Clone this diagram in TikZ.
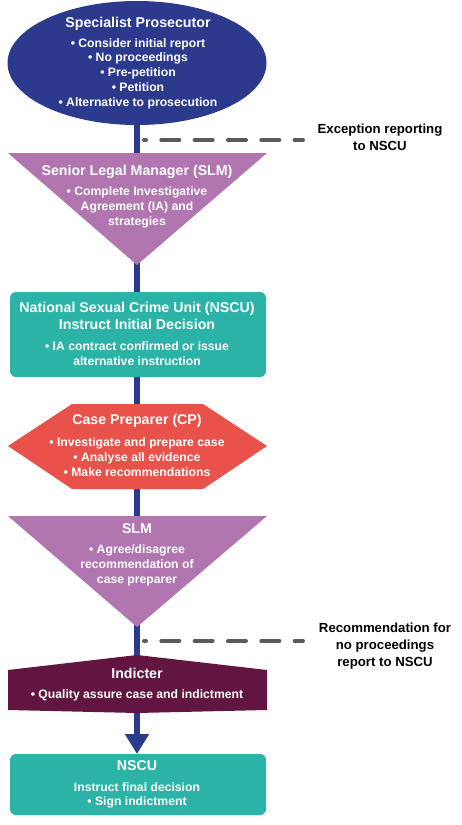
\documentclass[tikz,border=0pt]{standalone}
\usepackage{fontspec}
\setmainfont{Liberation Sans}
\usetikzlibrary{arrows.meta}

\definecolor{spnavy}{HTML}{2C3A8E}
\definecolor{slmpurple}{HTML}{B176AF}
\definecolor{nscuteal}{HTML}{2BB3A7}
\definecolor{cpred}{HTML}{E9524A}
\definecolor{indmaroon}{HTML}{611540}
\definecolor{tapgray}{HTML}{5A5A5A}

\begin{document}
\begin{tikzpicture}[
    x=1pt, y=-1pt,
    every node/.style={inner sep=0pt, text=white, align=center},
    head/.style={font=\fontsize{14.2}{17}\selectfont\bfseries},
    body/.style={font=\fontsize{12.2}{14.7}\selectfont\bfseries},
    side/.style={text=black, font=\fontsize{13.2}{17}\selectfont\bfseries},
    spine/.style={line width=6pt, draw=spnavy},
    tap/.style={line width=4pt, draw=tapgray, line cap=round,
                dash pattern=on 18pt off 15.33pt, dash phase=16pt},
]
\useasboundingbox (0,0) rectangle (461,825);
% ---- column x-coordinates ----
\def\xc{137}      % spine
\def\xl{8}        % left edge of the shapes
\def\xr{267}      % right edge of the shapes

% ---- spine end points ----
\coordinate (spS)   at (\xc,122);
\coordinate (slmN)  at (\xc,156);
\coordinate (slmS)  at (\xc,262);
\coordinate (iniN)  at (\xc,295);
\coordinate (iniS)  at (\xc,374);
\coordinate (cpN)   at (\xc,407);
\coordinate (cpS)   at (\xc,486);
\coordinate (agrN)  at (\xc,519);
\coordinate (agrS)  at (\xc,624);
\coordinate (indN)  at (\xc,659);
\coordinate (indS)  at (\xc,710);
\coordinate (finN)  at (\xc,754);

% ---- spine ----
\draw[spine] (spS) -- (slmN);
\draw[spine] (slmS) -- (iniN);
\draw[spine] (iniS) -- (cpN);
\draw[spine] (cpS) -- (agrN);
\draw[spine] (agrS) -- (indN);
\draw[spine, -{Triangle[width=23pt,length=20pt]}] (indS) -- (finN);

% ---- exception taps ----
\coordinate (tap1) at (\xc+7,140);
\coordinate (tap1e) at (303,140);
\coordinate (tap2) at (\xc+7,641);
\coordinate (tap2e) at (303,641);
\draw[tap] (tap1) -- (tap1e);
\draw[tap] (tap2) -- (tap2e);

% ---- shapes ----
\fill[spnavy] (\xc,63) ellipse [x radius=129.5pt, y radius=62pt];
\fill[slmpurple] (\xl,153) -- (\xr,153) -- (\xc,265) -- cycle;
\fill[nscuteal, rounded corners=6pt] (10,292) rectangle (266,377);
\fill[cpred] (72,404) -- (203,404) -- (\xr,446) -- (203,489)
             -- (72,489) -- (\xl,446) -- cycle;
\fill[slmpurple] (\xl,516) -- (\xr,516) -- (\xc,627) -- cycle;
\fill[indmaroon] (\xc,655) -- (\xr,670) -- (\xr,710) -- (\xc,713)
                 -- (\xl,710) -- (\xl,670) -- cycle;
\fill[nscuteal, rounded corners=6pt] (10,754) rectangle (266,815);

% ---- Specialist Prosecutor ----
\node[head] (spT) at (\xc+1,24) {Specialist Prosecutor};
\node[body] (spB) at (\xc+1,73.5) {• Consider initial report\\• No proceedings\\
  • Pre-petition\\• Petition\\• Alternative to prosecution};

% ---- SLM ----
\node[head] (slmT) at (\xc,172) {Senior Legal Manager (SLM)};
\node[body] (slmB) at (\xc,207.5) {• Complete Investigative\\Agreement (IA) and\\strategies};

% ---- NSCU initial decision ----
\node[head] (iniT) at (\xc,315.5) {National Sexual Crime Unit (NSCU)\\Instruct Initial Decision};
\node[body] (iniB) at (\xc,353.5) {• IA contract confirmed or issue\\alternative instruction};

% ---- Case Preparer ----
\node[head] (cpT) at (\xc,421) {Case Preparer (CP)};
\node[body] (cpB) at (\xc,457) {• Investigate and prepare case\\• Analyse all evidence\\
  • Make recommendations};

% ---- SLM agree ----
\node[head] (agrT) at (\xc,529) {SLM};
\node[body] (agrB) at (\xc,565.5) {• Agree/disagree\\recommendation of\\case preparer};

% ---- Indicter ----
\node[head] (indT) at (\xc,673) {Indicter};
\node[body] (indB) at (\xc,695) {• Quality assure case and indictment};

% ---- NSCU final ----
\node[head] (finT) at (\xc,766) {NSCU};
\node[body] (finB) at (\xc,795.5) {Instruct final decision\\• Sign indictment};

% ---- side notes ----
\node[side] (exc) at (380,137) {Exception reporting\\to NSCU};
\node[side] (rec) at (385,646) {Recommendation for\\no proceedings\\report to NSCU};

\end{tikzpicture}
\end{document}
